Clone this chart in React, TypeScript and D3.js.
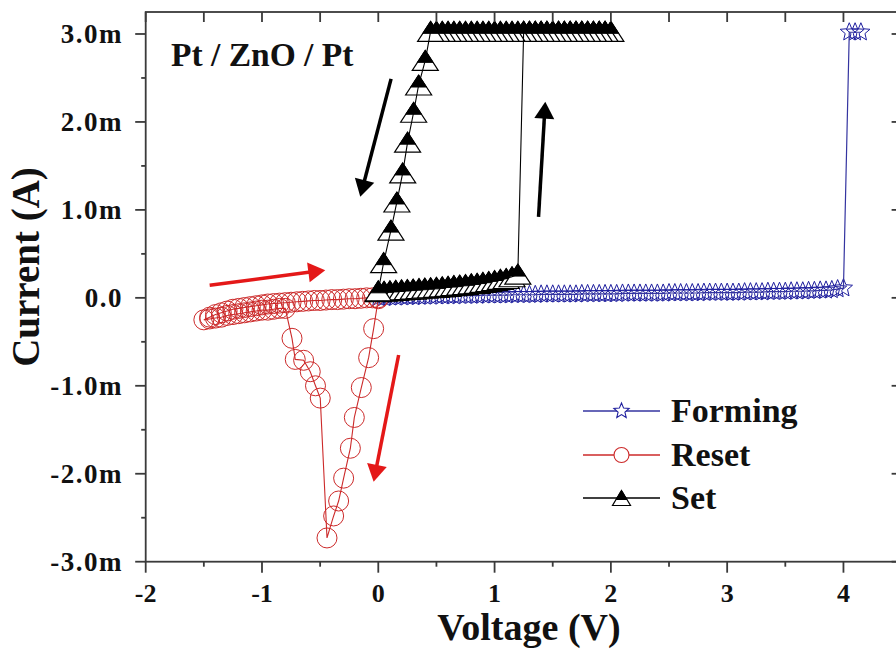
import React from 'react';
import * as d3 from 'd3';

// ---- axis ticks ----
const xTicks = [-2, -1, 0, 1, 2, 3, 4];
const xMinorTicks = [-1.5, -0.5, 0.5, 1.5, 2.5, 3.5, 4.5];
const yTicks = [-3, -2, -1, 0, 1, 2, 3];
const yTickLabels = ['-3.0m', '-2.0m', '-1.0m', '0.0', '1.0m', '2.0m', '3.0m'];
const yMinorTicks = [-2.5, -1.5, -0.5, 0.5, 1.5, 2.5];

// ---- Forming (V, mA) ----
const formingV = [
  0, 0.05, 0.1, 0.15, 0.2, 0.25, 0.3, 0.35, 0.4, 0.45,
  0.5, 0.55, 0.6, 0.65, 0.7, 0.75, 0.8, 0.85, 0.9, 0.95,
  1, 1.05, 1.1, 1.15, 1.2, 1.25, 1.3, 1.35, 1.4, 1.45,
  1.5, 1.55, 1.6, 1.65, 1.7, 1.75, 1.8, 1.85, 1.9, 1.95,
  2, 2.05, 2.1, 2.15, 2.2, 2.25, 2.3, 2.35, 2.4, 2.45,
  2.5, 2.55, 2.6, 2.65, 2.7, 2.75, 2.8, 2.85, 2.9, 2.95,
  3, 3.05, 3.1, 3.15, 3.2, 3.25, 3.3, 3.35, 3.4, 3.45,
  3.5, 3.55, 3.6, 3.65, 3.7, 3.75, 3.8, 3.85, 3.9, 3.95,
  4, 4.05, 4.1, 4.15,
];
const formingI = [
  0.0, 0.0, 0.005, 0.005, 0.01, 0.01, 0.01, 0.015, 0.015, 0.015,
  0.02, 0.02, 0.02, 0.02, 0.025, 0.025, 0.025, 0.025, 0.03, 0.03,
  0.03, 0.03, 0.03, 0.035, 0.035, 0.035, 0.035, 0.035, 0.04, 0.04,
  0.04, 0.04, 0.04, 0.04, 0.04, 0.045, 0.045, 0.045, 0.045, 0.045,
  0.045, 0.045, 0.05, 0.05, 0.05, 0.05, 0.05, 0.05, 0.05, 0.05,
  0.055, 0.055, 0.055, 0.055, 0.055, 0.055, 0.06, 0.06, 0.06, 0.06,
  0.06, 0.06, 0.06, 0.065, 0.065, 0.065, 0.065, 0.07, 0.07, 0.07,
  0.07, 0.075, 0.075, 0.075, 0.08, 0.08, 0.085, 0.085, 0.09, 0.1,
  0.11, 3.02, 3.02, 3.02,
];

// ---- Reset (V, mA) ----
const resetV = [
  0, -0.04, -0.083, -0.146, -0.206, -0.24, -0.298, -0.341, -0.384, -0.441,
  -0.499, -0.54, -0.585, -0.642, -0.714, -0.742,
  -0.8, -0.85, -0.9, -0.95, -1.0, -1.05, -1.1, -1.15, -1.2, -1.25, -1.3, -1.35, -1.4, -1.45, -1.5,
  -1.45, -1.4, -1.35, -1.3, -1.25, -1.2, -1.15, -1.1, -1.05, -1.0,
  -0.95, -0.9, -0.85, -0.8, -0.75, -0.7, -0.65, -0.6, -0.55, -0.5,
  -0.45, -0.4, -0.35, -0.3, -0.25, -0.2, -0.15, -0.1, -0.05, 0,
];
const resetI = [
  -0.01, -0.35, -0.68, -1.02, -1.36, -1.71, -2.05, -2.31, -2.48, -2.73,
  -1.14, -1.0, -0.84, -0.71, -0.7, -0.46,
  -0.12, -0.12, -0.13, -0.14, -0.14, -0.15, -0.16, -0.17, -0.18, -0.19, -0.2, -0.22, -0.23, -0.24, -0.25,
  -0.22, -0.19, -0.17, -0.15, -0.13, -0.12, -0.11, -0.1, -0.09, -0.08,
  -0.07, -0.065, -0.06, -0.055, -0.05, -0.045, -0.04, -0.035, -0.03, -0.03,
  -0.025, -0.02, -0.02, -0.015, -0.01, -0.01, -0.005, 0, 0, 0,
];

// ---- Set (V, mA) ----
const setV = [
  0, 0.05, 0.1, 0.15, 0.2, 0.25, 0.3, 0.35, 0.4, 0.45,
  0.5, 0.55, 0.6, 0.65, 0.7, 0.75, 0.8, 0.85, 0.9, 0.95,
  1, 1.05, 1.1, 1.15, 1.2,
  1.25, 1.3, 1.35, 1.4, 1.45, 1.5, 1.55, 1.6, 1.65, 1.7, 1.75, 1.8, 1.85, 1.9, 1.95, 2,
  1.95, 1.9, 1.85, 1.8, 1.75, 1.7, 1.65, 1.6, 1.55, 1.5,
  1.45, 1.4, 1.35, 1.3, 1.25, 1.2, 1.15, 1.1, 1.05, 1,
  0.95, 0.9, 0.85, 0.8, 0.75, 0.7, 0.65, 0.6, 0.55, 0.5, 0.45,
  0.404, 0.347, 0.304, 0.252, 0.21, 0.16, 0.109, 0.046, 0,
];
const setI = [
  0.07, 0.075, 0.08, 0.085, 0.09, 0.095, 0.1, 0.105, 0.11, 0.115,
  0.12, 0.125, 0.13, 0.14, 0.145, 0.15, 0.16, 0.165, 0.175, 0.185,
  0.195, 0.21, 0.22, 0.24, 0.27,
  3.03, 3.03, 3.03, 3.03, 3.03, 3.03, 3.03, 3.03, 3.03, 3.03, 3.03, 3.03, 3.03, 3.03, 3.03, 3.03,
  3.03, 3.03, 3.03, 3.03, 3.03, 3.03, 3.03, 3.03, 3.03, 3.03,
  3.03, 3.03, 3.03, 3.03, 3.03, 3.03, 3.03, 3.03, 3.03, 3.03,
  3.03, 3.03, 3.03, 3.03, 3.03, 3.03, 3.03, 3.03, 3.03, 3.03, 3.03,
  2.7, 2.42, 2.11, 1.77, 1.42, 1.09, 0.77, 0.4, 0.08,
];

// ---- annotation arrows (data coords: [V0, I0, V1(tip), I1(tip)]) ----
const blackArrows = [
  [0.11, 2.49, -0.155, 1.15],
  [1.378, 0.92, 1.436, 2.23],
];
const redArrows = [
  [-1.45, 0.144, -0.456, 0.315],
  [0.175, -0.65, -0.04, -2.09],
];

const legendItems = ['Forming', 'Reset', 'Set'];

const FONT = "'Liberation Serif', 'Times New Roman', serif";
const BLUE = '#1e1e9e';
const BLUE_LINE = '#3434a0';
const RED = '#cc2a2a';
const ARROW_RED = '#e41818';

function starPath(r: number) {
  const ri = r * 0.45;
  const pts: string[] = [];
  for (let k = 0; k < 10; k++) {
    const a = -Math.PI / 2 + (k * Math.PI) / 5;
    const rr = k % 2 === 0 ? r : ri;
    pts.push(`${(rr * Math.cos(a)).toFixed(2)},${(rr * Math.sin(a)).toFixed(2)}`);
  }
  return 'M' + pts.join('L') + 'Z';
}

function HalfTri({ cx, cy, w, h }: { cx: number; cy: number; w: number; h: number }) {
  const top = -h / 2;
  const bot = h / 2;
  const f = 0.6;
  const yc = top + f * h;
  const wc = w * f;
  return (
    <g transform={`translate(${cx},${cy})`}>
      <path d={`M0,${top}L${w},${bot}L${-w},${bot}Z`} fill="#fff" stroke="#000" strokeWidth={1.2} />
      <path d={`M0,${top}L${wc},${yc}L${-wc},${yc}Z`} fill="#000" stroke="#000" strokeWidth={1} />
    </g>
  );
}

function Arrow({ x1, y1, x2, y2, color, len, wid, sw }: any) {
  const dx = x2 - x1;
  const dy = y2 - y1;
  const d = Math.hypot(dx, dy);
  const ux = dx / d;
  const uy = dy / d;
  const bx = x2 - ux * len;
  const by = y2 - uy * len;
  const px = -uy;
  const py = ux;
  return (
    <g>
      <line x1={x1} y1={y1} x2={bx + ux * 2} y2={by + uy * 2} stroke={color} strokeWidth={sw} />
      <path
        d={`M${x2},${y2}L${bx + (px * wid) / 2},${by + (py * wid) / 2}L${bx - (px * wid) / 2},${by - (py * wid) / 2}Z`}
        fill={color}
      />
    </g>
  );
}

export default function App() {
  const W = 896;
  const H = 654;
  const x = d3.scaleLinear().domain([-2, 4.5]).range([145.7, 901.6]);
  const y = d3.scaleLinear().domain([-3, 3.25]).range([561.7, 12]);
  const [x0, x1] = x.range();
  const [y0, y1] = y.range();

  const zip = (vs: number[], is: number[]) => vs.map((v, i) => [v, is[i]] as [number, number]);
  const forming = zip(formingV, formingI);
  const reset = zip(resetV, resetI);
  const set = zip(setV, setI);
  const line = d3
    .line<[number, number]>()
    .x((d) => x(d[0]))
    .y((d) => y(d[1]));

  const star = starPath(9.5);
  const starLeg = starPath(8);
  const axisColor = '#3a3a3a';

  const legX0 = 583;
  const legX1 = 660;
  const legY = [411, 455, 498];

  return (
    <svg
      width={W}
      height={H}
      viewBox={`0 0 ${W} ${H}`}
      style={{ position: 'absolute', left: 0, top: 0, background: '#fff' }}
      fontFamily={FONT}
    >
      <rect x={0} y={0} width={W} height={H} fill="#fff" />

      {/* Forming */}
      <g>
        {forming.map((d, i) => (
          <path key={i} d={star} transform={`translate(${x(d[0])},${y(d[1])})`} fill="none" stroke={BLUE} strokeWidth={1} />
        ))}
        <path d={line(forming) || ''} fill="none" stroke={BLUE_LINE} strokeWidth={1.2} />
      </g>

      {/* Reset */}
      <g>
        {reset.map((d, i) => (
          <circle key={i} cx={x(d[0])} cy={y(d[1])} r={10} fill="none" stroke={RED} strokeWidth={1} />
        ))}
        <path d={line(reset) || ''} fill="none" stroke={RED} strokeWidth={1.1} />
      </g>

      {/* Set */}
      <g>
        {set.map((d, i) => (
          <HalfTri key={i} cx={x(d[0])} cy={y(d[1])} w={13} h={20} />
        ))}
        <path d={line(set) || ''} fill="none" stroke="#000" strokeWidth={1.1} />
      </g>

      {/* arrows */}
      {blackArrows.map((a, i) => (
        <Arrow key={'b' + i} x1={x(a[0])} y1={y(a[1])} x2={x(a[2])} y2={y(a[3])} color="#000" len={17} wid={20} sw={3.5} />
      ))}
      {redArrows.map((a, i) => (
        <Arrow key={'r' + i} x1={x(a[0])} y1={y(a[1])} x2={x(a[2])} y2={y(a[3])} color={ARROW_RED} len={17} wid={20} sw={3.5} />
      ))}

      {/* frame */}
      <rect x={x0} y={y1} width={x1 - x0} height={y0 - y1} fill="none" stroke={axisColor} strokeWidth={1.8} />

      {/* bottom ticks */}
      {xTicks.map((t) => (
        <line key={'xb' + t} x1={x(t)} x2={x(t)} y1={y0} y2={y0 + 11} stroke={axisColor} strokeWidth={1.8} />
      ))}
      {xMinorTicks.map((t) => (
        <line key={'xbm' + t} x1={x(t)} x2={x(t)} y1={y0} y2={y0 + 5} stroke={axisColor} strokeWidth={1.8} />
      ))}
      {/* top ticks */}
      {[...xTicks, ...xMinorTicks].map((t) => (
        <line key={'xt' + t} x1={x(t)} x2={x(t)} y1={y1} y2={y1 + 10} stroke={axisColor} strokeWidth={1.8} />
      ))}
      {/* left ticks */}
      {yTicks.map((t) => (
        <line key={'yl' + t} x1={x0 - 10.5} x2={x0} y1={y(t)} y2={y(t)} stroke={axisColor} strokeWidth={1.8} />
      ))}
      {yMinorTicks.map((t) => (
        <line key={'ylm' + t} x1={x0 - 4.5} x2={x0} y1={y(t)} y2={y(t)} stroke={axisColor} strokeWidth={1.8} />
      ))}
      {/* right ticks */}
      {yTicks.map((t) => (
        <line key={'yr' + t} x1={x1 - 10} x2={x1} y1={y(t)} y2={y(t)} stroke={axisColor} strokeWidth={1.8} />
      ))}
      {yMinorTicks.map((t) => (
        <line key={'yrm' + t} x1={x1 - 4.5} x2={x1} y1={y(t)} y2={y(t)} stroke={axisColor} strokeWidth={1.8} />
      ))}

      {/* tick labels */}
      {xTicks.map((t) => (
        <text key={'xl' + t} x={x(t)} y={602} textAnchor="middle" fontSize={26} fontWeight="bold" fill="#111">
          {String(t)}
        </text>
      ))}
      {yTicks.map((t, i) => (
        <text key={'ylab' + t} x={123} y={y(t) + 9} textAnchor="end" fontSize={27} fontWeight="bold" fill="#111" letterSpacing={1.5}>
          {yTickLabels[i]}
        </text>
      ))}

      {/* axis titles */}
      <text x={529} y={640} textAnchor="middle" fontSize={38} fontWeight="bold" fill="#111">
        Voltage (V)
      </text>
      <text transform="translate(39,267) rotate(-90)" textAnchor="middle" fontSize={39} fontWeight="bold" fill="#111">
        Current (A)
      </text>

      {/* device label */}
      <text x={171} y={66} fontSize={33.5} fontWeight="bold" fill="#111">
        Pt / ZnO / Pt
      </text>

      {/* legend */}
      {legendItems.map((name, i) => {
        const ly = legY[i];
        const cx = (legX0 + legX1) / 2;
        const col = i === 0 ? BLUE_LINE : i === 1 ? RED : '#000';
        return (
          <g key={name}>
            <line x1={legX0} x2={legX1} y1={ly} y2={ly} stroke={col} strokeWidth={1.3} />
            {i === 0 && <path d={starLeg} transform={`translate(${cx},${ly})`} fill="#fff" stroke={BLUE} strokeWidth={1.1} />}
            {i === 1 && <circle cx={cx} cy={ly} r={7.5} fill="#fff" stroke={RED} strokeWidth={1.1} />}
            {i === 2 && <HalfTri cx={cx} cy={ly} w={9} h={15} />}
            <text x={671} y={ly + 10.5} fontSize={34} fontWeight="bold" fill="#111">
              {name}
            </text>
          </g>
        );
      })}
    </svg>
  );
}
